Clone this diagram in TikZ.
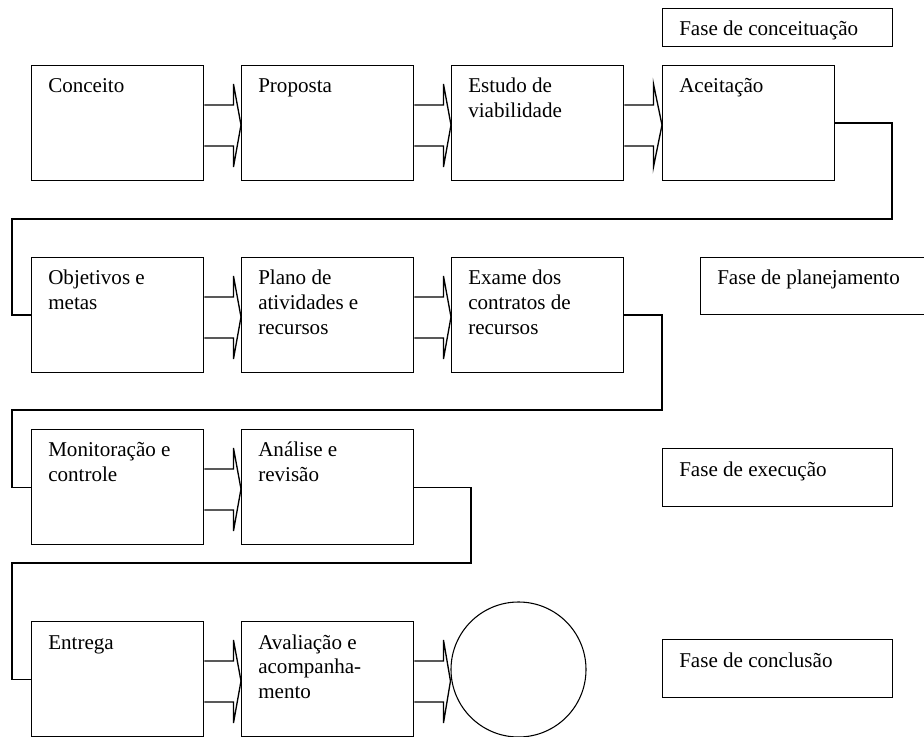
\documentclass[tikz,border=0pt]{standalone}
\usepackage{fontspec}
\setmainfont{Liberation Serif}
\usetikzlibrary{calc}
\newlength\pxu
\setlength\pxu{0.75pt}
\tikzset{
  stagebox/.style={draw, line width=1.1pt, rectangle, inner sep=0pt, anchor=north west,
    minimum width=172\pxu, minimum height=115\pxu},
  phasebox/.style={draw, line width=1.1pt, rectangle, inner sep=0pt, anchor=north west,
    minimum width=230\pxu},
  endcircle/.style={draw, line width=0.8pt, circle, inner sep=0pt, minimum size=135\pxu},
  txt/.style={anchor=base west, inner sep=0pt, font=\fontsize{15.8pt}{18.4pt}\selectfont},
  conn/.style={line width=1.1pt},
  blkline/.style={line width=1pt, line join=miter}
}
\newcommand\lbl[2]{\node[txt] at ($(#1.north west)+(17,28)$) {\parbox[t]{210\pxu}{\raggedright #2}};}
\newcommand\blkarrow[2]{%
  \path (#1.north east) ++(0,60) coordinate (tmpa);
  \path (tmpa -| #2.west) coordinate (tmptip);
  \draw[blkline] ($(#1.north east)+(0,40)$) -- ++(29,0) -- ++(0,-21)
  -- (tmptip) -- ($(#1.north east)+(29,102)$) -- ++(0,-21) -- ++(-29,0);}
\begin{document}
\begin{tikzpicture}[x=0.75pt,y=-0.75pt]
\useasboundingbox (0,0) rectangle (924,737);
% phase labels
\node[phasebox, minimum height=38\pxu] (f1) at (662,8) {};
\lbl{f1}{Fase de conceituação}
\node[phasebox, minimum width=240\pxu, minimum height=57\pxu] (f2) at (700,257) {};
\lbl{f2}{Fase de planejamento}
\node[phasebox, minimum height=58\pxu] (f3) at (662,448) {};
\lbl{f3}{Fase de execução}
\node[phasebox, minimum height=58\pxu] (f4) at (662,639) {};
\lbl{f4}{Fase de conclusão}
% row 1
\node[stagebox] (c1) at (31,65) {};
\node[stagebox] (c2) at (241,65) {};
\node[stagebox] (c3) at (451,65) {};
\node[stagebox] (c4) at (662,65) {};
\lbl{c1}{Conceito}
\lbl{c2}{Proposta}
\lbl{c3}{Estudo de\\viabilidade}
\lbl{c4}{Aceitação}
% row 2
\node[stagebox] (o1) at (31,257) {};
\node[stagebox] (o2) at (241,257) {};
\node[stagebox] (o3) at (451,257) {};
\lbl{o1}{Objetivos e\\metas}
\lbl{o2}{Plano de\\atividades e\\recursos}
\lbl{o3}{Exame dos\\contratos de\\recursos}
% row 3
\node[stagebox] (m1) at (31,429) {};
\node[stagebox] (m2) at (241,429) {};
\lbl{m1}{Monitoração e\\controle}
\lbl{m2}{Análise e\\revisão}
% row 4
\node[stagebox] (e1) at (31,621) {};
\node[stagebox] (e2) at (241,621) {};
\lbl{e1}{Entrega}
\lbl{e2}{Avaliação e\\acompanha-\\mento}
\node[endcircle] (fim) at (518.5,669.5) {};
% block arrows
\blkarrow{c1}{c2}
\blkarrow{c2}{c3}
\blkarrow{c3}{c4}
\blkarrow{o1}{o2}
\blkarrow{o2}{o3}
\blkarrow{m1}{m2}
\blkarrow{e1}{e2}
\blkarrow{e2}{fim}
% connectors between rows
\coordinate (k1) at (892,219);
\coordinate (k2) at (12,219);
\coordinate (k3) at (662,410);
\coordinate (k4) at (12,410);
\coordinate (k5) at (471,563);
\coordinate (k6) at (12,563);
\draw[conn] (c4.east) -| (k1) -- (k2) |- (o1.west);
\draw[conn] (o3.east) -| (k3) -- (k4) |- (m1.west);
\draw[conn] (m2.east) -| (k5) -- (k6) |- (e1.west);
\end{tikzpicture}
\end{document}
